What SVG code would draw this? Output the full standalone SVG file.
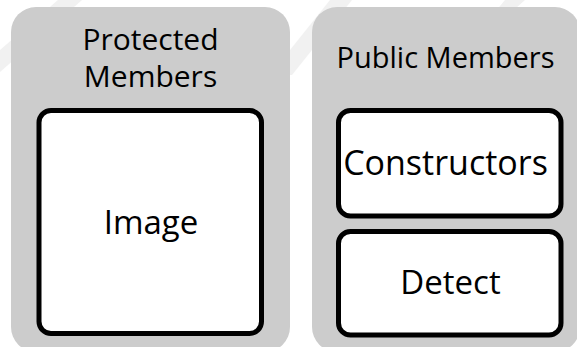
<svg xmlns="http://www.w3.org/2000/svg" width="577" height="347" viewBox="0 0 577 347">
  <style>
    .panel { fill: #cccccc; }
    .box { fill: #ffffff; stroke: #000000; stroke-width: 5; }
    .band { fill: #f1f1f1; }
    text { font-family: "Open Sans", "Liberation Sans", sans-serif; font-size: 30px; fill: #000000; text-anchor: middle; }
    .item { font-size: 33px; }
  </style>
  <rect width="577" height="347" fill="#ffffff"/>
  <!-- faint diagonal background bands -->
  <g id="background">
    <polygon class="band" points="0,50 58,0 82,0 0,72"/>
    <polygon class="band" points="270,75 330,0 352,0 292,75"/>
    <polygon class="band" points="490,18 505,0 525,0 505,18"/>
  </g>
  <g id="protected-members">
    <rect class="panel" x="11" y="7" width="279" height="345" rx="25" ry="25"/>
    <text x="150.5" y="50">Protected</text>
    <text x="150.5" y="87">Members</text>
  </g>
  <g id="public-members">
    <rect class="panel" x="312" y="7" width="268" height="345" rx="25" ry="25"/>
    <text x="445.5" y="68" style="font-size:29px">Public Members</text>
  </g>
  <g id="image">
    <rect class="box" x="39" y="110.5" width="222.5" height="223" rx="12" ry="12"/>
    <text class="item" x="151" y="234">Image</text>
  </g>
  <g id="constructors">
    <rect class="box" x="338.5" y="110.5" width="222.5" height="105.5" rx="12" ry="12"/>
    <text class="item" x="445.5" y="175" style="font-size:34px">Constructors</text>
  </g>
  <g id="detect">
    <rect class="box" x="338.5" y="231.5" width="222.5" height="103.5" rx="12" ry="12"/>
    <text class="item" x="450.5" y="294">Detect</text>
  </g>
  <g id="connectors"/>
</svg>
